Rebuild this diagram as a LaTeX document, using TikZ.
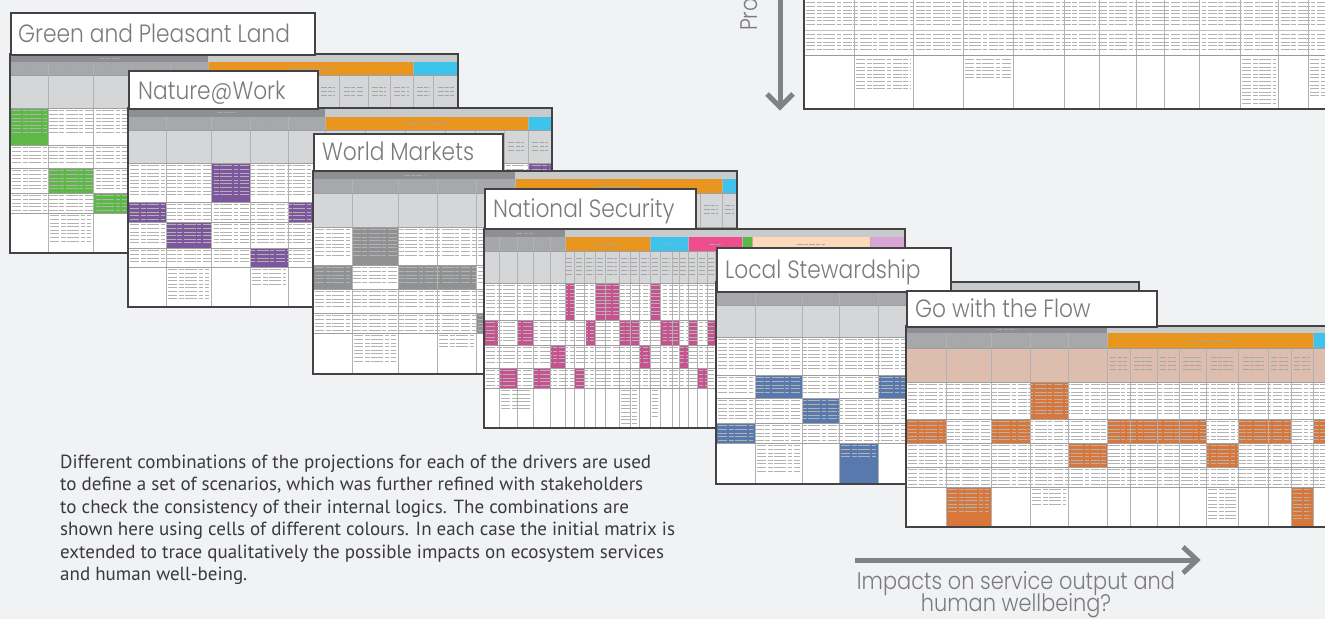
\documentclass[tikz,border=0pt]{standalone}
\usepackage{fontspec}
\newfontfamily\lfont[UprightFont={* Light}, FakeStretch=0.87]{Poppins}
\newfontfamily\pfont{PT Sans}
\definecolor{bg}{HTML}{F1F2F4}
\definecolor{frame}{HTML}{434345}
\definecolor{hdark}{HTML}{8D8F92}
\definecolor{hgray}{HTML}{A6A8AB}
\definecolor{hlight}{HTML}{D5D6D8}
\definecolor{bandlight}{HTML}{C9CACC}
\definecolor{orng}{HTML}{E8961F}
\definecolor{cyn}{HTML}{3EC3EC}
\definecolor{pnk}{HTML}{EE4E8E}
\definecolor{grn}{HTML}{5CB946}
\definecolor{prp}{HTML}{7D579E}
\definecolor{dgc}{HTML}{909193}
\definecolor{mag}{HTML}{C8518F}
\definecolor{blu}{HTML}{5779AE}
\definecolor{bor}{HTML}{D9773A}
\definecolor{tanc}{HTML}{DDBDAE}
\definecolor{peach}{HTML}{FCD9B8}
\definecolor{lilac}{HTML}{D9A4D6}
\definecolor{labtext}{HTML}{7B7B7D}
\definecolor{arr}{HTML}{808285}
\definecolor{ptext}{HTML}{3A3A3C}
\tikzset{
  frm/.style={draw=frame, line width=1.8},
  gl/.style={draw=gray!60, line width=0.6},
  rl/.style={draw=gray!75, line width=0.8},
  tx/.style={draw=black!30, line width=0.8, dash pattern=on 9pt off 1.5pt on 5pt off 1.5pt on 12pt off 1.5pt on 4pt off 2pt},
  htx/.style={draw=black!35, line width=0.8, dash pattern=on 6pt off 1.2pt on 4pt off 1.2pt},
  labbox/.style={draw=frame, line width=1.8, fill=white, inner sep=0, anchor=north west},
  labtxt/.style={text=labtext, font=\lfont\fontsize{25}{25}\selectfont, inner sep=0},
  arrtxt/.style={text=labtext, font=\lfont\fontsize{24}{24}\selectfont, inner sep=0},
  ptxt/.style={text=ptext, font=\pfont\fontsize{19}{22}\selectfont, inner sep=0, anchor=base west},
  arrowline/.style={draw=arr, line width=5, line join=miter}
}
% text texture in a data row: x0 x1 y0 y1
\newcommand\txr[4]{%
  \pgfmathtruncatemacro\txN{max(1,(#4-#3)/3.6)}%
  \foreach \k in {1,...,\txN}{\draw[tx] (#1+2,#3+\k*3.6-0.8) -- (#2-2,#3+\k*3.6-0.8);}}
% small centred header text: list of a/b column pairs, y, fraction
\newcommand\hlab[3]{%
  \foreach \a/\b in {#1}{\draw[htx] ({\a+#3*(\b-\a)},#2) -- ({\b-#3*(\b-\a)},#2);}}
\begin{document}
\begin{tikzpicture}[x=1pt,y=-1pt]
\useasboundingbox (0,0) rectangle (1325,619);
\fill[bg] (0,0) rectangle (1325,619);
\clip (0,0) rectangle (1325,619);

% ---------- top right table
\fill[white] (804,-5) rectangle (1330,109);
\txr{804}{1330}{0}{28}
\txr{804}{1330}{32}{53}
\txr{854}{913}{57}{90}
\txr{963}{1013}{57}{80}
\txr{1240}{1278}{57}{105}
\txr{1308}{1330}{57}{100}
\foreach \xx in {854,913,963,1013,1064,1099,1136,1164,1199,1240,1278,1308} \draw[gl] (\xx,-5) -- (\xx,109);
\draw[draw=gray!50, line width=0.8] (804,30) -- (1330,30);
\draw[draw=gray!80, line width=1] (804,55) -- (1330,55);
\draw[frm] (804,-5) -- (804,109) -- (1330,109);

% vertical arrow
\coordinate (va) at (780,-5);
\coordinate (vb) at (780,107);
\draw[arrowline] (va) -- (vb);
\draw[arrowline] (vb) ++(-13,-13) -- (vb) -- ++(13,-13);
\node (pro) [arrtxt, anchor=base west, rotate=90] at (757,31) {Pro};

% ---------- table 1 : Green and Pleasant Land
\fill[white] (10,54) rectangle (458,253);
\fill[hdark] (10,54) rectangle (208,62);
\fill[bandlight] (208,54) rectangle (458,62);
\fill[hgray] (10,62) rectangle (208,75);
\fill[orng] (208,62) rectangle (413,75);
\fill[cyn] (413,62) rectangle (458,75);
\fill[hlight] (10,75) rectangle (458,108);
\fill[grn] (10,108) rectangle (48,145);
\fill[grn] (48,168) rectangle (93,193);
\fill[grn] (93,193) rectangle (131,213);
\hlab{10/208}{58}{0.45}
\hlab{10/48,48/93,93/131,131/170,170/208}{68.5}{0.28}
\hlab{208/413}{68.5}{0.4}
\foreach \yy in {87,91,95} {\hlab{208/240,240/275,275/317,317/339,339/368,368/390,390/413,413/433,433/458}{\yy}{0.18}}
\txr{10}{458}{108}{136}
\txr{10}{458}{145}{164}
\txr{10}{458}{168}{190}
\txr{10}{458}{193}{211}
\txr{48}{93}{213}{245}
\foreach \xx in {48,93,131,170,208,413} \draw[gl] (\xx,62) -- (\xx,253);
\foreach \xx in {240,275,317,339,368,390,433} \draw[gl] (\xx,75) -- (\xx,253);
\foreach \yy in {75,108,145,168,193,213} \draw[rl] (10,\yy) -- (458,\yy);
\draw[frm] (10,54) rectangle (458,253);
\node (l1) [labbox, minimum width=304, minimum height=42] at (10,12) {};
\node (t1) [labtxt, anchor=base west] at (18,42) {Green and Pleasant Land};

% ---------- table 2 : Nature@Work
\fill[white] (128,108) rectangle (552,307);
\fill[hdark] (128,108) rectangle (325,117);
\fill[bandlight] (325,108) rectangle (552,117);
\fill[hgray] (128,117) rectangle (325,130);
\fill[orng] (325,117) rectangle (528,130);
\fill[cyn] (528,117) rectangle (552,130);
\fill[hlight] (128,130) rectangle (552,163);
\fill[prp] (211,163) rectangle (250,202);
\fill[prp] (128,202) rectangle (166,222);
\fill[prp] (288,202) rectangle (325,222);
\fill[prp] (166,222) rectangle (211,248);
\fill[prp] (250,248) rectangle (288,267);
\fill[prp] (528,163) rectangle (552,176);
\hlab{128/325}{112.5}{0.45}
\hlab{128/166,166/211,211/250,250/288,288/325}{123.5}{0.28}
\hlab{325/528}{123.5}{0.4}
\foreach \yy in {142,146,150} {\hlab{325/365,365/405,405/445,445/475,475/504,504/528,528/552}{\yy}{0.18}}
\txr{128}{552}{163}{196}
\txr{128}{552}{202}{220}
\txr{128}{552}{222}{245}
\txr{128}{552}{248}{265}
\txr{166}{211}{267}{300}
\txr{250}{288}{267}{285}
\foreach \xx in {166,211,250,288,325,528} \draw[gl] (\xx,117) -- (\xx,307);
\foreach \xx in {365,405,445,475,504} \draw[gl] (\xx,130) -- (\xx,307);
\foreach \yy in {130,163,202,222,248,267} \draw[rl] (128,\yy) -- (552,\yy);
\draw[frm] (128,108) rectangle (552,307);
\node (l2) [labbox, minimum width=189, minimum height=38] at (128,70) {};
\node (t2) [labtxt, anchor=base west] at (138,99) {Nature@Work};

% ---------- table 3 : World Markets
\fill[white] (313,171) rectangle (737,374);
\fill[hdark] (313,171) rectangle (515,179);
\fill[bandlight] (515,171) rectangle (737,179);
\fill[hgray] (313,179) rectangle (515,193);
\fill[orng] (515,179) rectangle (722,193);
\fill[cyn] (722,179) rectangle (737,193);
\fill[hlight] (313,193) rectangle (737,227);
\fill[dgc] (352,227) rectangle (398,265);
\fill[dgc] (313,265) rectangle (352,289);
\fill[dgc] (398,265) rectangle (437,289);
\fill[dgc] (437,265) rectangle (476,289);
\fill[dgc] (476,313) rectangle (515,333);
\fill[prp] (722,227) rectangle (737,240);
\hlab{313/515}{175}{0.45}
\hlab{313/352,352/398,398/437,437/476,476/515}{186}{0.28}
\hlab{515/722}{186}{0.4}
\foreach \yy in {205,209,213} {\hlab{515/560,560/605,605/650,650/700,700/722,722/737}{\yy}{0.18}}
\txr{313}{737}{227}{258}
\txr{313}{737}{265}{286}
\txr{313}{737}{289}{310}
\txr{313}{737}{313}{331}
\txr{352}{398}{333}{365}
\txr{437}{476}{333}{350}
\foreach \xx in {352,398,437,476,515,722} \draw[gl] (\xx,179) -- (\xx,374);
\foreach \xx in {560,605,650,700} \draw[gl] (\xx,193) -- (\xx,374);
\foreach \yy in {193,227,265,289,313,333} \draw[rl] (313,\yy) -- (737,\yy);
\draw[frm] (313,171) rectangle (737,374);
\node (l3) [labbox, minimum width=189, minimum height=37] at (313,133) {};
\node (t3) [labtxt, anchor=base west] at (322,160) {World Markets};

% ---------- table 4 : National Security
\fill[white] (484,229) rectangle (905,428);
\fill[hdark] (484,229) rectangle (565,237);
\fill[bandlight] (565,229) rectangle (905,237);
\fill[hgray] (484,237) rectangle (565,251);
\fill[orng] (565,237) rectangle (650,251);
\fill[cyn] (650,237) rectangle (688,251);
\fill[pnk] (688,237) rectangle (742,251);
\fill[grn] (742,237) rectangle (752,251);
\fill[peach] (752,237) rectangle (870,251);
\fill[lilac] (870,237) rectangle (905,251);
\fill[hlight] (484,251) rectangle (905,283);
\fill[mag] (565,283) rectangle (574,320);
\fill[mag] (595,283) rectangle (619,320);
\fill[mag] (650,283) rectangle (660,320);
\fill[mag] (485,320) rectangle (498,345);
\fill[mag] (517,320) rectangle (533,345);
\fill[mag] (586,320) rectangle (595,345);
\fill[mag] (619,320) rectangle (639,345);
\fill[mag] (660,320) rectangle (679,345);
\fill[mag] (688,320) rectangle (697,345);
\fill[mag] (707,320) rectangle (715,345);
\fill[mag] (550,345) rectangle (565,368);
\fill[mag] (639,345) rectangle (650,368);
\fill[mag] (679,345) rectangle (688,368);
\fill[mag] (499,368) rectangle (517,388);
\fill[mag] (533,368) rectangle (550,388);
\fill[mag] (574,368) rectangle (584,388);
\fill[mag] (697,368) rectangle (707,388);
\hlab{484/565}{233}{0.4}
\hlab{484/499,499/517,517/533,533/550,550/565}{244}{0.25}
\hlab{565/650,650/688,688/742,752/870}{244}{0.38}
\foreach \yy in {258,262,266,270,274} {\hlab{565/574,574/584,584/595,595/605,605/619,619/630,630/639,639/650,650/660,660/672,672/679,679/688,688/697,697/707,707/715}{\yy}{0.15}}
\txr{484}{905}{283}{318}
\txr{484}{905}{320}{343}
\txr{484}{905}{345}{366}
\txr{484}{905}{368}{386}
\txr{499}{533}{388}{412}
\txr{619}{639}{388}{425}
\txr{650}{660}{388}{420}
\foreach \xx in {499,517,533,550,565,650,688,742,752,870} \draw[gl] (\xx,237) -- (\xx,428);
\foreach \xx in {574,584,595,605,619,630,639,660,672,679,697,707,715,725,734,762,772,782,792,802,812,822,832,842,852,862,880,890} \draw[gl] (\xx,251) -- (\xx,428);
\foreach \yy in {251,283,320,345,368,388} \draw[rl] (484,\yy) -- (905,\yy);
\draw[frm] (484,229) rectangle (905,428);
\node (l4) [labbox, minimum width=211, minimum height=40] at (484,188) {};
\node (t4) [labtxt, anchor=base west] at (493,217) {National Security};

% ---------- table 5 : Local Stewardship
\fill[white] (716,282) rectangle (1139,484);
\fill[hdark] (716,282) rectangle (917,290);
\fill[bandlight] (917,282) rectangle (1139,290);
\fill[hgray] (716,290) rectangle (917,305);
\fill[orng] (917,290) rectangle (1100,305);
\fill[cyn] (1100,290) rectangle (1139,305);
\fill[hlight] (716,305) rectangle (1139,337);
\fill[blu] (755,375) rectangle (802,398);
\fill[blu] (878,375) rectangle (917,398);
\fill[blu] (802,398) rectangle (839,423);
\fill[blu] (716,423) rectangle (755,443);
\fill[blu] (839,443) rectangle (878,484);
\hlab{716/755,755/802,802/839,839/878,878/917}{297.5}{0.28}
\txr{716}{1139}{337}{370}
\txr{716}{1139}{375}{396}
\txr{716}{1139}{398}{420}
\txr{716}{1139}{423}{441}
\txr{755}{802}{443}{475}
\txr{839}{878}{443}{460}
\foreach \xx in {755,802,839,878,917} \draw[gl] (\xx,290) -- (\xx,484);
\foreach \xx in {950,990,1030,1070,1100} \draw[gl] (\xx,305) -- (\xx,484);
\foreach \yy in {305,337,375,398,423,443} \draw[rl] (716,\yy) -- (1139,\yy);
\draw[frm] (716,282) rectangle (1139,484);
\node (l5) [labbox, minimum width=234, minimum height=44] at (716,247) {};
\node (t5) [labtxt, anchor=base west] at (725,278) {Local Stewardship};

% ---------- table 6 : Go with the Flow
\fill[white] (906,326) rectangle (1330,527);
\fill[hdark] (906,326) rectangle (1107,333);
\fill[bandlight] (1107,326) rectangle (1330,333);
\fill[hgray] (906,333) rectangle (1107,348);
\fill[orng] (1107,333) rectangle (1313,348);
\fill[cyn] (1313,333) rectangle (1330,348);
\fill[tanc] (906,348) rectangle (1330,382);
\fill[bor] (1030,382) rectangle (1068,419);
\fill[bor] (906,419) rectangle (946,443);
\fill[bor] (991,419) rectangle (1030,443);
\fill[bor] (1107,419) rectangle (1206,443);
\fill[bor] (1238,419) rectangle (1291,443);
\fill[bor] (1313,419) rectangle (1330,443);
\fill[bor] (1068,443) rectangle (1107,467);
\fill[bor] (1206,443) rectangle (1238,467);
\fill[bor] (946,487) rectangle (991,527);
\fill[bor] (1291,487) rectangle (1313,527);
\hlab{906/1107}{329.5}{0.45}
\hlab{906/946,946/991,991/1030,1030/1068,1068/1107}{340.5}{0.28}
\hlab{1107/1313}{340.5}{0.4}
\foreach \yy in {357,361,365,369} {\hlab{1107/1130,1130/1157,1157/1179,1179/1206,1206/1238,1238/1268,1268/1291,1291/1313}{\yy}{0.15}}
\txr{906}{1330}{382}{416}
\txr{906}{1330}{419}{441}
\txr{906}{1330}{443}{465}
\txr{906}{1330}{467}{485}
\txr{946}{991}{487}{515}
\txr{1030}{1068}{487}{505}
\txr{1206}{1238}{487}{522}
\txr{1291}{1313}{487}{520}
\foreach \xx in {946,991,1030,1068,1107,1313} \draw[gl] (\xx,333) -- (\xx,527);
\foreach \xx in {1130,1157,1179,1206,1238,1268,1291} \draw[gl] (\xx,348) -- (\xx,527);
\foreach \yy in {348,382,419,443,467,487} \draw[rl] (906,\yy) -- (1330,\yy);
\draw[frm] (1330,326) -- (906,326) -- (906,527) -- (1330,527);
\node (l6) [labbox, minimum width=250, minimum height=36] at (906,290) {};
\node (t6) [labtxt, anchor=base west] at (915,317) {Go with the Flow};

% ---------- horizontal arrow and its label
\coordinate (ha) at (855,560);
\coordinate (hb) at (1197,560);
\draw[arrowline] (ha) -- (hb);
\draw[arrowline] (hb) ++(-14,-13) -- (hb) -- ++(-14,13);
\node (imp1) [arrtxt, anchor=base] at (1016,589) {Impacts on service output and};
\node (imp2) [arrtxt, anchor=base] at (1016,611) {human wellbeing?};

% ---------- paragraph
\node (p1) [ptxt] at (60,468) {Different combinations of the projections for each of the drivers are used};
\node (p2) [ptxt] at (60,490.5) {to define a set of scenarios, which was further refined with stakeholders};
\node (p3) [ptxt] at (60,513) {to check the consistency of their internal logics. The combinations are};
\node (p4) [ptxt] at (60,535.5) {shown here using cells of different colours. In each case the initial matrix is};
\node (p5) [ptxt] at (60,558) {extended to trace qualitatively the possible impacts on ecosystem services};
\node (p6) [ptxt] at (60,580.5) {and human well-being.};
\end{tikzpicture}
\end{document}
